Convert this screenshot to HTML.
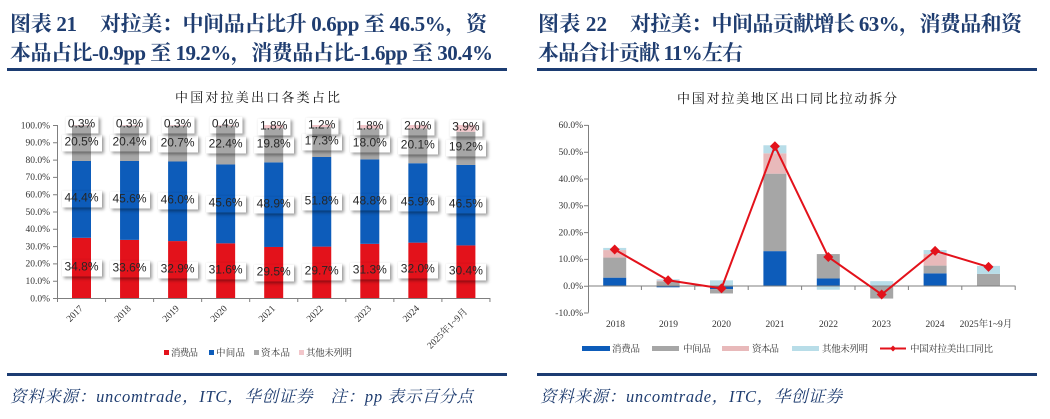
<!DOCTYPE html>
<html><head><meta charset="utf-8">
<style>
html,body{margin:0;padding:0;background:#fff;}
#wrap{position:relative;width:1050px;height:419px;overflow:hidden;background:#fff;}
svg{position:absolute;left:0;top:0;}
.lb{position:absolute;transform:translate(-50%,-50%);padding:0 3px;height:17px;line-height:17px;font:12px "Liberation Sans",sans-serif;color:#262626;white-space:nowrap;box-shadow:2px 2px 3px rgba(0,0,0,0.38),0 0 1px rgba(0,0,0,0.12);}
</style></head><body><div id="wrap">
<svg width="1050" height="419" viewBox="0 0 1050 419" xmlns="http://www.w3.org/2000/svg">
<g font-family="'Liberation Serif','Noto Serif CJK SC',serif" font-weight="bold" font-size="21" fill="#1f3d70">
<text x="10" y="31" textLength="67" lengthAdjust="spacing">图表 21</text>
<text x="100" y="31" textLength="387" lengthAdjust="spacing">对拉美：中间品占比升 0.6pp 至 46.5%，资</text>
<text x="10" y="60" textLength="483" lengthAdjust="spacing">本品占比-0.9pp 至 19.2%，消费品占比-1.6pp 至 30.4%</text>
<text x="538" y="31" textLength="69" lengthAdjust="spacing">图表 22</text>
<text x="630" y="31" textLength="392" lengthAdjust="spacing">对拉美：中间品贡献增长 63%，消费品和资</text>
<text x="538" y="60" textLength="205" lengthAdjust="spacing">本品合计贡献 11%左右</text>
</g>
<rect x="7" y="68" width="500" height="3" fill="#1c3c72"/>
<rect x="537" y="68" width="500" height="3" fill="#1c3c72"/>
<rect x="7" y="373" width="500" height="3" fill="#1c3c72"/>
<rect x="537" y="373" width="500" height="3" fill="#1c3c72"/>
<g font-family="'Liberation Serif','Noto Serif CJK SC',serif" font-style="italic" font-size="16.5" fill="#1f3d70">
<text x="10" y="402" textLength="463" lengthAdjust="spacing">资料来源：uncomtrade，ITC，华创证券　注：pp 表示百分点</text>
<text x="540" y="402" textLength="302" lengthAdjust="spacing">资料来源：uncomtrade，ITC，华创证券</text>
</g>
<g font-family="'Liberation Serif','Noto Serif CJK SC',serif" font-size="13" fill="#111">
<text x="175" y="102" textLength="165" lengthAdjust="spacing">中国对拉美出口各类占比</text>
<text x="677" y="103" textLength="220" lengthAdjust="spacing">中国对拉美地区出口同比拉动拆分</text>
</g>

<g font-family="'Liberation Serif',serif" font-size="9.5" fill="#333" text-anchor="end">
<text x="50" y="128.3">100.0%</text><text x="50" y="145.6">90.0%</text><text x="50" y="162.9">80.0%</text>
<text x="50" y="180.2">70.0%</text><text x="50" y="197.5">60.0%</text><text x="50" y="214.8">50.0%</text>
<text x="50" y="232.1">40.0%</text><text x="50" y="249.4">30.0%</text><text x="50" y="266.7">20.0%</text>
<text x="50" y="284">10.0%</text><text x="50" y="301.3">0.0%</text>
</g>
<g transform="translate(0,298) scale(1,-1.73)">
<g fill="#e3121b">
<rect x="72" y="0" width="19" height="34.8"/><rect x="120.05" y="0" width="19" height="33.6"/>
<rect x="168.1" y="0" width="19" height="32.9"/><rect x="216.15" y="0" width="19" height="31.6"/>
<rect x="264.2" y="0" width="19" height="29.5"/><rect x="312.25" y="0" width="19" height="29.7"/>
<rect x="360.3" y="0" width="19" height="31.3"/><rect x="408.35" y="0" width="19" height="32.0"/>
<rect x="456.4" y="0" width="19" height="30.4"/>
</g>
<g fill="#0d5cba">
<rect x="72" y="34.8" width="19" height="44.4"/><rect x="120.05" y="33.6" width="19" height="45.6"/>
<rect x="168.1" y="32.9" width="19" height="46.0"/><rect x="216.15" y="31.6" width="19" height="45.6"/>
<rect x="264.2" y="29.5" width="19" height="48.9"/><rect x="312.25" y="29.7" width="19" height="51.8"/>
<rect x="360.3" y="31.3" width="19" height="48.8"/><rect x="408.35" y="32.0" width="19" height="45.9"/>
<rect x="456.4" y="30.4" width="19" height="46.5"/>
</g>
<g fill="#a6a6a6">
<rect x="72" y="79.2" width="19" height="20.5"/><rect x="120.05" y="79.2" width="19" height="20.4"/>
<rect x="168.1" y="78.9" width="19" height="20.7"/><rect x="216.15" y="77.2" width="19" height="22.4"/>
<rect x="264.2" y="78.4" width="19" height="19.8"/><rect x="312.25" y="81.5" width="19" height="17.3"/>
<rect x="360.3" y="80.1" width="19" height="18.0"/><rect x="408.35" y="77.9" width="19" height="20.1"/>
<rect x="456.4" y="76.9" width="19" height="19.2"/>
</g>
<g fill="#f2c6ca">
<rect x="72" y="99.7" width="19" height="0.3"/><rect x="120.05" y="99.6" width="19" height="0.4"/>
<rect x="168.1" y="99.6" width="19" height="0.4"/><rect x="216.15" y="99.6" width="19" height="0.4"/>
<rect x="264.2" y="98.2" width="19" height="1.8"/><rect x="312.25" y="98.8" width="19" height="1.2"/>
<rect x="360.3" y="98.1" width="19" height="1.9"/><rect x="408.35" y="98.0" width="19" height="2.0"/>
<rect x="456.4" y="96.1" width="19" height="3.9"/>
</g>
</g>
<g stroke="#7f7f7f" stroke-width="1" fill="none">
<line x1="57.5" y1="125" x2="57.5" y2="298"/>
<line x1="57" y1="298.5" x2="490" y2="298.5"/>
<path d="M53 125.5H57.5M53 142.8H57.5M53 160.1H57.5M53 177.4H57.5M53 194.7H57.5M53 212H57.5M53 229.3H57.5M53 246.6H57.5M53 263.9H57.5M53 281.2H57.5M53 298.5H57.5"/>
<path d="M57.5 298V302M105.55 298V302M153.6 298V302M201.65 298V302M249.7 298V302M297.75 298V302M345.8 298V302M393.85 298V302M441.9 298V302M489.95 298V302"/>
</g>
<g font-family="'Liberation Serif','Noto Serif CJK SC',serif" font-size="9.5" fill="#333" text-anchor="end">
<text transform="translate(83.5,309) rotate(-45)">2017</text>
<text transform="translate(131.5,309) rotate(-45)">2018</text>
<text transform="translate(179.6,309) rotate(-45)">2019</text>
<text transform="translate(227.6,309) rotate(-45)">2020</text>
<text transform="translate(275.7,309) rotate(-45)">2021</text>
<text transform="translate(323.7,309) rotate(-45)">2022</text>
<text transform="translate(371.8,309) rotate(-45)">2023</text>
<text transform="translate(419.8,309) rotate(-45)">2024</text>
<text transform="translate(468,312) rotate(-45)">2025年1~9月</text>
</g>
<rect x="164" y="350" width="5" height="5" fill="#e3121b"/>
<rect x="209" y="350" width="5" height="5" fill="#0d5cba"/>
<rect x="254" y="350" width="5" height="5" fill="#a6a6a6"/>
<rect x="299" y="350" width="5" height="5" fill="#f2c6ca"/>
<g font-family="'Noto Serif CJK SC',serif" font-size="9.5" fill="#333">
<text x="171" y="356" textLength="27" lengthAdjust="spacing">消费品</text>
<text x="216" y="356" textLength="29" lengthAdjust="spacing">中间品</text>
<text x="261" y="356" textLength="29" lengthAdjust="spacing">资本品</text>
<text x="306" y="356" textLength="46" lengthAdjust="spacing">其他未列明</text>
</g>

<g font-family="'Liberation Serif',serif" font-size="9.5" fill="#333" text-anchor="end">
<text x="583" y="128.2">60.0%</text><text x="583" y="155">50.0%</text><text x="583" y="181.8">40.0%</text>
<text x="583" y="208.6">30.0%</text><text x="583" y="235.4">20.0%</text><text x="583" y="262.2">10.0%</text>
<text x="583" y="289">0.0%</text><text x="583" y="315.8">-10.0%</text>
</g>
<g transform="translate(0,285.7) scale(1,-2.68)">
<g fill="#0d5cba">
<rect x="603.2" y="0" width="23" height="3.0"/>
<rect x="656.6" y="-0.6" width="23" height="0.6"/>
<rect x="710" y="-1.3" width="23" height="1.3"/>
<rect x="763.4" y="0" width="23" height="12.9"/>
<rect x="816.8" y="0" width="23" height="2.7"/>
<rect x="923.6" y="0" width="23" height="4.6"/>
</g>
<g fill="#a6a6a6">
<rect x="603.2" y="3.0" width="23" height="7.5"/>
<rect x="656.6" y="0" width="23" height="1.6"/>
<rect x="710" y="-2.9" width="23" height="1.6"/>
<rect x="763.4" y="12.9" width="23" height="28.9"/>
<rect x="816.8" y="2.7" width="23" height="9.1"/>
<rect x="870.2" y="-4.8" width="23" height="4.8"/>
<rect x="923.6" y="4.6" width="23" height="2.9"/>
<rect x="977" y="0" width="23" height="4.4"/>
</g>
<g fill="#e8b9ba">
<rect x="603.2" y="10.5" width="23" height="2.8"/>
<rect x="656.6" y="1.6" width="23" height="0.3"/>
<rect x="763.4" y="41.8" width="23" height="7.6"/>
<rect x="923.6" y="7.5" width="23" height="4.3"/>
</g>
<g fill="#b8dde8">
<rect x="603.2" y="13.3" width="23" height="0.8"/>
<rect x="656.6" y="1.9" width="23" height="0.5"/>
<rect x="710" y="0" width="23" height="2.0"/>
<rect x="763.4" y="49.4" width="23" height="3.0"/>
<rect x="816.8" y="-1.5" width="23" height="1.5"/>
<rect x="870.2" y="0" width="23" height="1.7"/>
<rect x="923.6" y="11.8" width="23" height="1.5"/>
<rect x="977" y="4.4" width="23" height="3.0"/>
</g>
</g>
<g stroke="#7f7f7f" stroke-width="1" fill="none">
<line x1="588.5" y1="125" x2="588.5" y2="312.5"/>
<line x1="588" y1="286" x2="1015.5" y2="286"/>
<path d="M584 125.4H588.5M584 152.2H588.5M584 179H588.5M584 205.8H588.5M584 232.6H588.5M584 259.4H588.5M584 286.2H588.5M584 313H588.5"/>
<path d="M641.4 286V290M694.8 286V290M748.2 286V290M801.6 286V290M855 286V290M908.4 286V290M961.8 286V290M1015.2 286V290"/>
</g>
<polyline points="614.7,249.5 668.1,280.3 721.5,288.4 774.9,146.3 828.3,257 881.7,294.5 935.1,250.9 988.5,266.9" fill="none" stroke="#e3121b" stroke-width="2"/>
<g fill="#e3121b">
<polygon points="614.7,244.5 619.7,249.5 614.7,254.5 609.7,249.5"/>
<polygon points="668.1,275.3 673.1,280.3 668.1,285.3 663.1,280.3"/>
<polygon points="721.5,283.4 726.5,288.4 721.5,293.4 716.5,288.4"/>
<polygon points="774.9,141.3 779.9,146.3 774.9,151.3 769.9,146.3"/>
<polygon points="828.3,252 833.3,257 828.3,262 823.3,257"/>
<polygon points="881.7,289.5 886.7,294.5 881.7,299.5 876.7,294.5"/>
<polygon points="935.1,245.9 940.1,250.9 935.1,255.9 930.1,250.9"/>
<polygon points="988.5,261.9 993.5,266.9 988.5,271.9 983.5,266.9"/>
</g>
<g font-family="'Liberation Serif','Noto Serif CJK SC',serif" font-size="9.5" fill="#333" text-anchor="middle">
<text x="615.5" y="327">2018</text><text x="668.5" y="327">2019</text><text x="721.5" y="327">2020</text>
<text x="775" y="327">2021</text><text x="828.5" y="327">2022</text><text x="881.5" y="327">2023</text>
<text x="935" y="327">2024</text><text x="986" y="327">2025年1~9月</text>
</g>
<rect x="582" y="346" width="28" height="5" fill="#0d5cba"/>
<rect x="652" y="346" width="27" height="5" fill="#a6a6a6"/>
<rect x="722" y="346" width="27" height="5" fill="#e8b9ba"/>
<rect x="792" y="346" width="27" height="5" fill="#b8dde8"/>
<line x1="880" y1="348.5" x2="906" y2="348.5" stroke="#e3121b" stroke-width="2"/>
<polygon points="893,345.5 896,348.5 893,351.5 890,348.5" fill="#e3121b"/>
<g font-family="'Noto Serif CJK SC',serif" font-size="9.5" fill="#333">
<text x="612" y="352" textLength="28" lengthAdjust="spacing">消费品</text>
<text x="683" y="352" textLength="28" lengthAdjust="spacing">中间品</text>
<text x="752" y="352" textLength="27" lengthAdjust="spacing">资本品</text>
<text x="822" y="352" textLength="46" lengthAdjust="spacing">其他未列明</text>
<text x="910" y="352" textLength="83" lengthAdjust="spacing">中国对拉美出口同比</text>
</g>
</svg>

<div class="lb" style="left:81.5px;top:125.3px">0.3%</div>
<div class="lb" style="left:81.5px;top:143.2px">20.5%</div>
<div class="lb" style="left:81.5px;top:199.4px">44.4%</div>
<div class="lb" style="left:81.5px;top:267.9px">34.8%</div>

<div class="lb" style="left:129.5px;top:125.4px">0.3%</div>
<div class="lb" style="left:129.5px;top:143.3px">20.4%</div>
<div class="lb" style="left:129.5px;top:200.4px">45.6%</div>
<div class="lb" style="left:129.5px;top:268.9px">33.6%</div>

<div class="lb" style="left:177.6px;top:125.4px">0.3%</div>
<div class="lb" style="left:177.6px;top:143.6px">20.7%</div>
<div class="lb" style="left:177.6px;top:201.3px">46.0%</div>
<div class="lb" style="left:177.6px;top:269.5px">32.9%</div>

<div class="lb" style="left:225.6px;top:125.3px">0.4%</div>
<div class="lb" style="left:225.6px;top:145.1px">22.4%</div>
<div class="lb" style="left:225.6px;top:203.9px">45.6%</div>
<div class="lb" style="left:225.6px;top:270.7px">31.6%</div>

<div class="lb" style="left:273.7px;top:126.6px">1.8%</div>
<div class="lb" style="left:273.7px;top:145.2px">19.8%</div>
<div class="lb" style="left:273.7px;top:204.7px">48.9%</div>
<div class="lb" style="left:273.7px;top:272.5px">29.5%</div>

<div class="lb" style="left:321.7px;top:126px">1.2%</div>
<div class="lb" style="left:321.7px;top:142px">17.3%</div>
<div class="lb" style="left:321.7px;top:201.8px">51.8%</div>
<div class="lb" style="left:321.7px;top:272.3px">29.7%</div>

<div class="lb" style="left:369.8px;top:126.7px">1.8%</div>
<div class="lb" style="left:369.8px;top:143.9px">18.0%</div>
<div class="lb" style="left:369.8px;top:201.6px">48.8%</div>
<div class="lb" style="left:369.8px;top:270.9px">31.3%</div>

<div class="lb" style="left:417.8px;top:126.7px">2.0%</div>
<div class="lb" style="left:417.8px;top:145.8px">20.1%</div>
<div class="lb" style="left:417.8px;top:202.9px">45.9%</div>
<div class="lb" style="left:417.8px;top:270.3px">32.0%</div>

<div class="lb" style="left:465.9px;top:127.5px">3.9%</div>
<div class="lb" style="left:465.9px;top:148px">19.2%</div>
<div class="lb" style="left:465.9px;top:205.2px">46.5%</div>
<div class="lb" style="left:465.9px;top:271.7px">30.4%</div>
</div></body></html>
